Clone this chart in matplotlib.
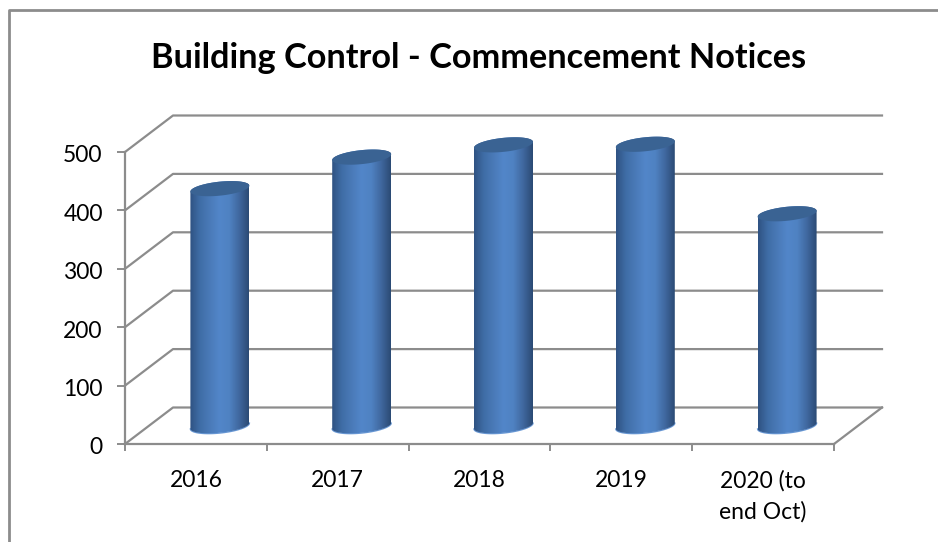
# Building control commencement notices, drawn as a fake 3D cylinder chart.
import matplotlib
matplotlib.use('Agg')
import matplotlib.pyplot as plt
import numpy as np
from matplotlib.colors import LinearSegmentedColormap
from matplotlib.patches import Polygon
from matplotlib.transforms import ScaledTranslation

years = ['2016', '2017', '2018', '2019', '2020 (to\nend Oct)']
notices = [406, 460, 481, 482, 363]
y_ticks = [0, 100, 200, 300, 400, 500]

W, H = 938, 542
grey = '#8c8c8c'

plt.rcParams['font.family'] = ['Lato', 'DejaVu Sans']

fig = plt.figure(figsize=(W / 100, H / 100), dpi=100)
ax = fig.add_axes([125 / W, 1 - 444 / H, 709 / W, 292 / H])
ax.set_xlim(0, 5)
ax.set_ylim(0, 500)

# Outer chart border (open on the right and at the bottom)
fig.add_artist(plt.Line2D([9 / W, 9 / W, 1], [0, 1 - 10 / H, 1 - 10 / H],
                          color=grey, lw=2))

# Depth of the 3D box in data units
dx = 48 / 141.8
dy = 62.5

# Back wall gridlines, side wall diagonals and floor edge
for v in y_ticks:
    ax.plot([0, dx, 5 + dx], [v, v + dy, v + dy], color=grey, lw=1.6,
            clip_on=False, zorder=1)
ax.plot([5, 5 + dx], [0, dy], color=grey, lw=1.6, clip_on=False, zorder=1)

# Cylinders
cmap = LinearSegmentedColormap.from_list(
    'cyl', ['#2f5282', '#3f6da6', '#4a7ab8', '#5286c9', '#4f82c2', '#40689f', '#2b4a74'])
grad = np.linspace(0, 1, 256).reshape(1, -1)
rx = 0.208
ry = 12
shear = 5
t = np.linspace(0, 2 * np.pi, 100)

for i, val in enumerate(notices):
    cx = i + 0.5 + dx / 2
    base = dy / 2
    top = val + dy / 2
    # lower half of the bottom ellipse, then upper wall edge along the top ellipse
    tb = np.linspace(np.pi, 2 * np.pi, 50)
    tt = np.linspace(0, np.pi, 50)
    body_x = np.r_[cx + rx * np.cos(tb), cx + rx * np.cos(tt)]
    body_y = np.r_[base + ry * np.sin(tb) + shear * np.cos(tb),
                   top + ry * np.sin(tt) + shear * np.cos(tt)]
    body = Polygon(np.c_[body_x, body_y], closed=True, fc='none', ec='none',
                   transform=ax.transData)
    ax.add_patch(body)
    body.set_clip_on(False)
    ax.plot(cx + rx * np.cos(tb), base - 0.5 + ry * np.sin(tb) + shear * np.cos(tb),
            color='#6b9ad6', lw=1, zorder=2, clip_on=False)
    im = ax.imshow(grad, cmap=cmap, extent=[cx - rx, cx + rx, 0, top + 30],
                   aspect='auto', zorder=3)
    im.set_clip_path(body)
    im.set_clip_box(fig.bbox)
    ax.fill(cx + rx * np.cos(t), top + ry * np.sin(t) + shear * np.cos(t),
            color='#3a6393', lw=0, zorder=4, clip_on=False)

ax.set_xlim(0, 5)
ax.set_ylim(0, 500)

# Axes and ticks
for side in ['top', 'right']:
    ax.spines[side].set_visible(False)
for side in ['left', 'bottom']:
    ax.spines[side].set_color(grey)
    ax.spines[side].set_linewidth(1.6)
    ax.spines[side].set_zorder(2)
ax.patch.set_alpha(0)

ax.set_yticks(y_ticks)
ax.tick_params(axis='y', length=6, width=1.4, color=grey, pad=10, labelsize=16.5)
# Nudge the value labels down a little, they sit just under their ticks
nudge = ScaledTranslation(0, -2 / 100, fig.dpi_scale_trans)
for lab in ax.get_yticklabels():
    lab.set_transform(lab.get_transform() + nudge)
ax.set_xticks(range(6))
ax.set_xticklabels([])
ax.tick_params(axis='x', which='major', length=5, width=1.4, color=grey)
ax.set_xticks(np.arange(5) + 0.5, labels=years, minor=True)
ax.tick_params(axis='x', which='minor', length=0, pad=19, labelsize=16.5)
for lab in ax.get_xticklabels(minor=True):
    lab.set_linespacing(1.55)

fig.text(479 / W, 1 - 57.5 / H, 'Building Control - Commencement Notices',
         ha='center', va='center', fontsize=24.7, fontweight='bold', color='black')

fig.savefig('out.png', dpi=100)
